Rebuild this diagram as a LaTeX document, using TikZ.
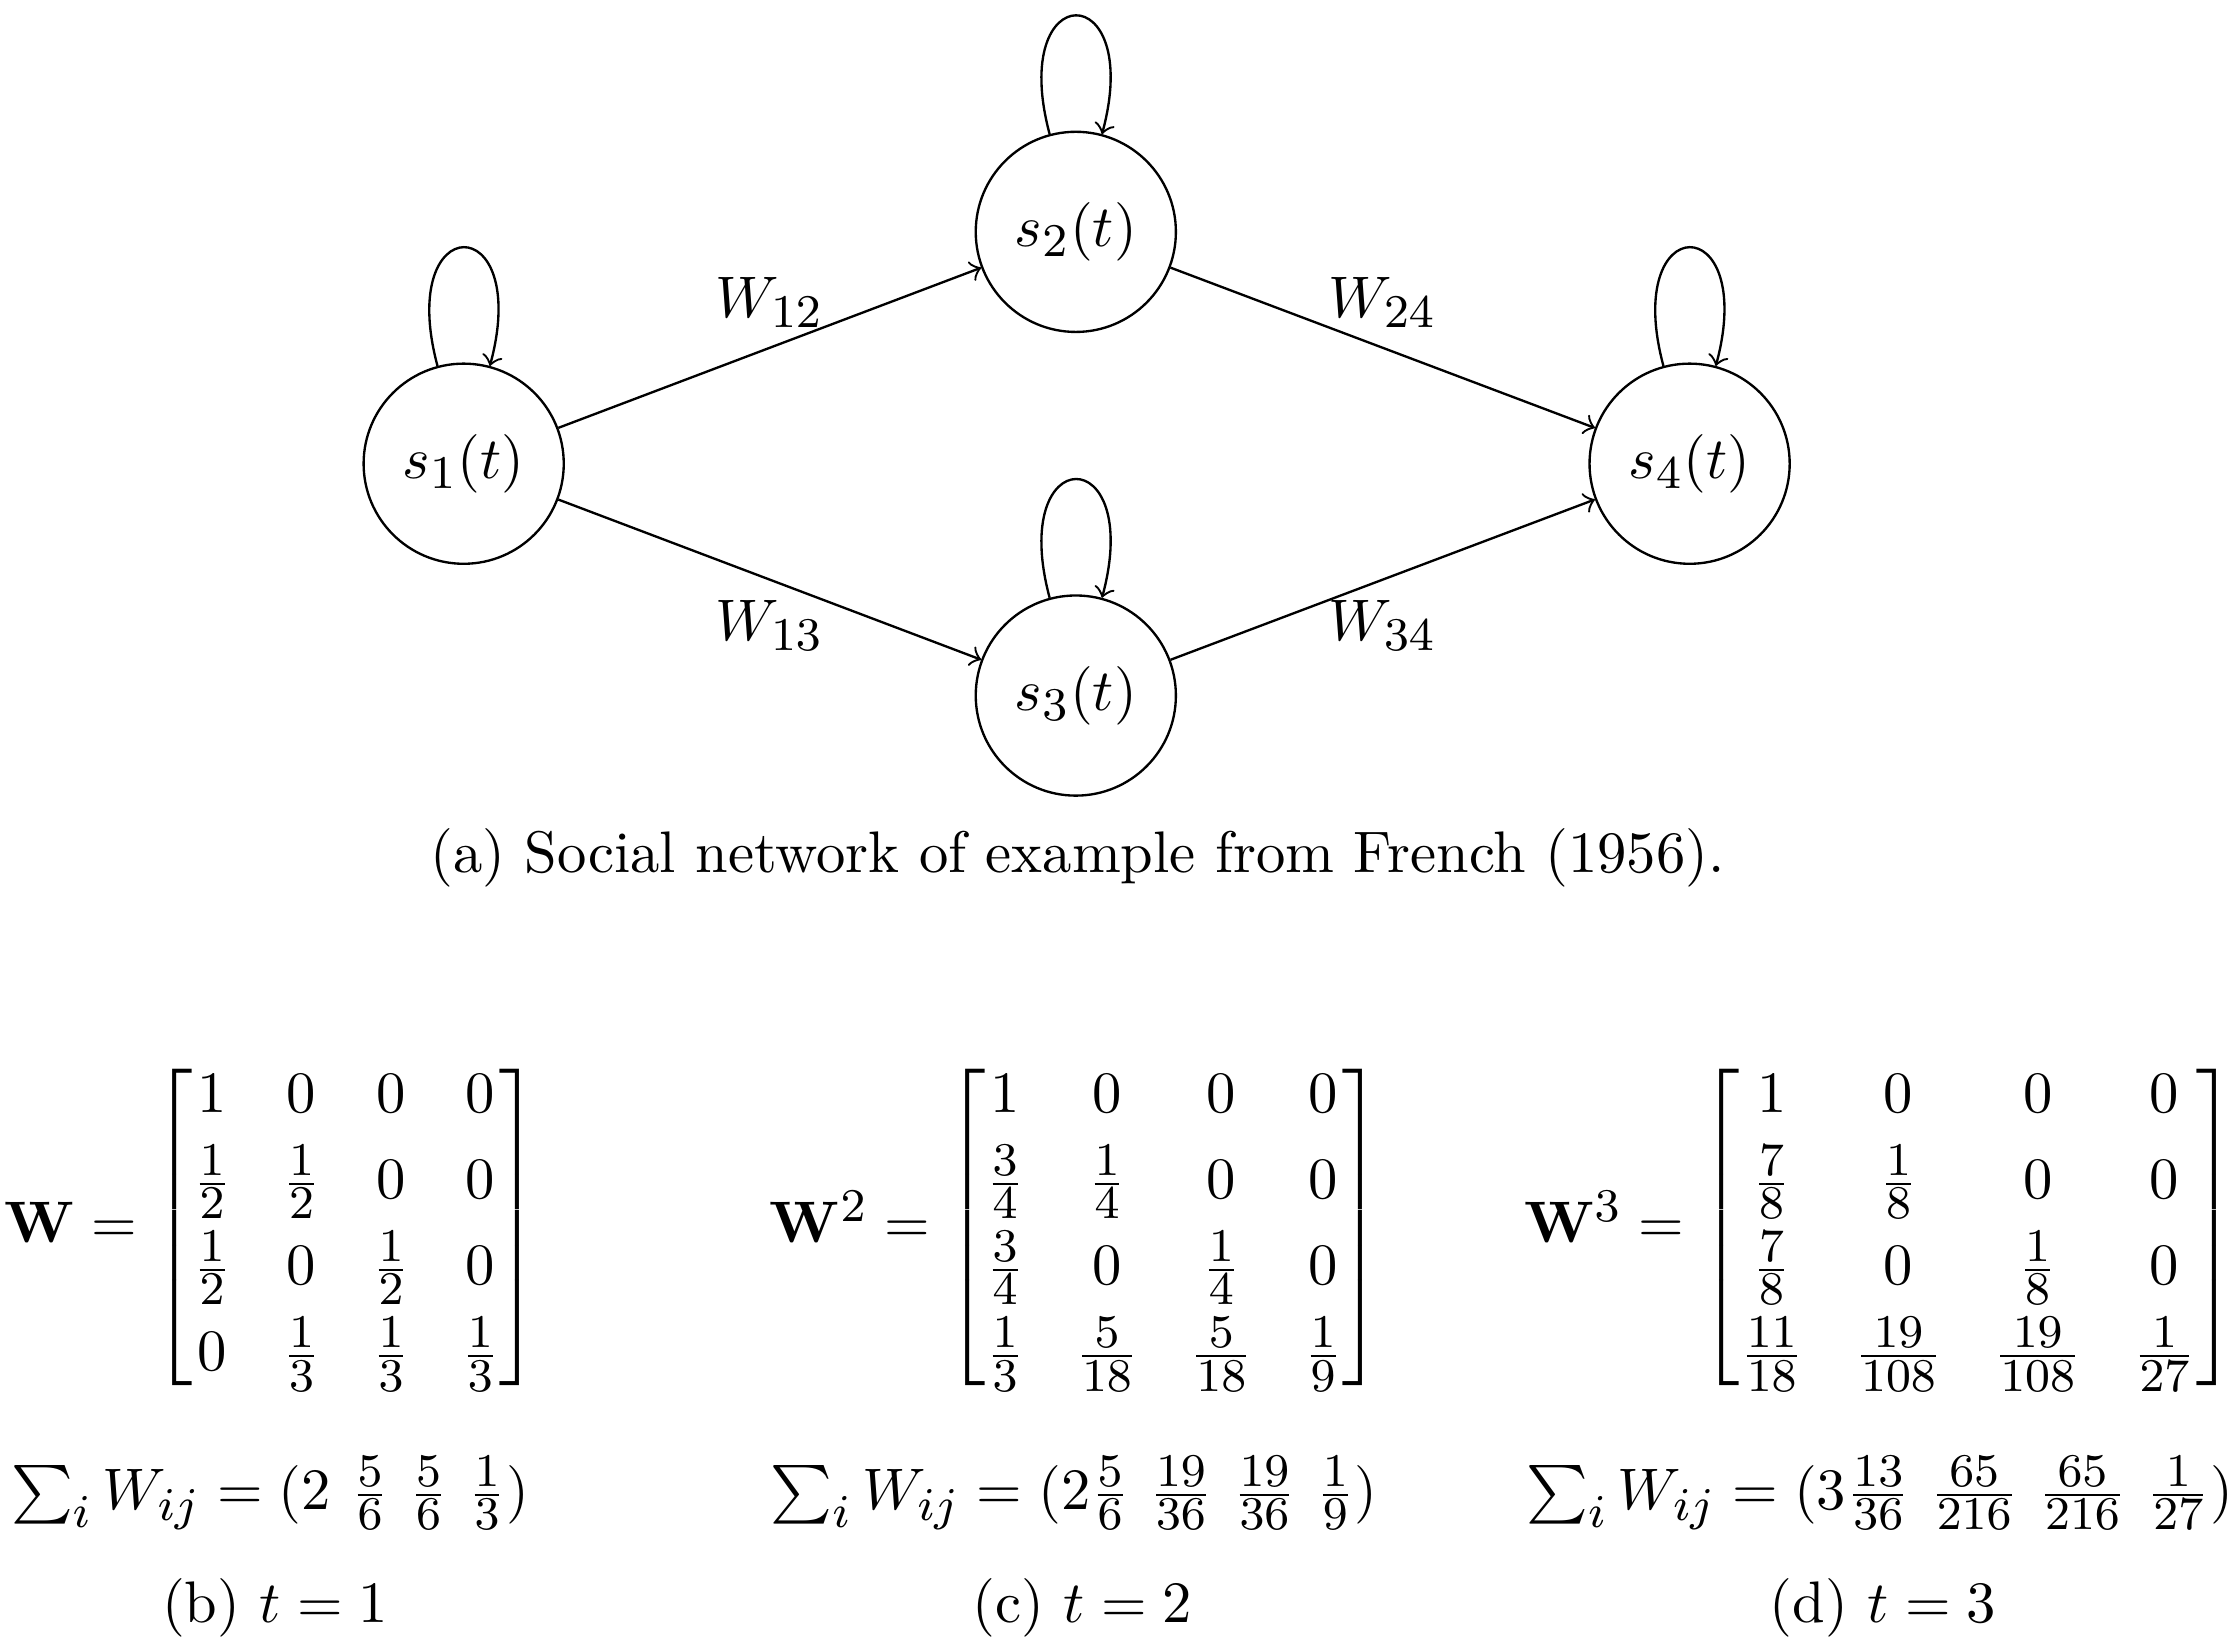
\documentclass[tikz,border=0pt]{standalone}
\usepackage{amsmath}
\usepackage{tikz}
\usetikzlibrary{positioning}

% indices y fracciones a 8pt
\DeclareMathSizes{10}{10}{8}{6}
\makeatletter
\AtBeginDocument{\def\glb@currsize{}}
\makeatother
\setlength{\arraycolsep}{4.3pt}

\begin{document}
\begin{tikzpicture}[
  state/.style={
    circle,
    draw,
    minimum size=1.2cm
  },
  arrow/.style={->},
  caption/.style={anchor=base}
]
\useasboundingbox (0,0) rectangle (13.43,-9.89);

% Red social (arriba)
\node[state] (s1) at (2.78, -2.78) {$s_1(t)$};
\node[state] (s2) at (6.45, -1.39) {$s_2(t)$};
\node[state] (s3) at (6.45, -4.17) {$s_3(t)$};
\node[state] (s4) at (10.13, -2.78) {$s_4(t)$};

% Influencias entre nodos
\draw[arrow] (s1) -- node[above]{$W_{12}$} (s2);
\draw[arrow] (s1) -- node[below]{$W_{13}$} (s3);
\draw[arrow] (s2) -- node[above]{$W_{24}$} (s4);
\draw[arrow] (s3) -- node[below]{$W_{34}$} (s4);

% Lazos
\foreach \s in {s1, s2, s3, s4}
  \draw[arrow] (\s) to[loop above] (\s);

\node[caption] (capa) at (6.46, -5.23) {(a) Social network of example from French (1956).};

% t = 1
\node (wone) at (1.63, -7.36) {$\mathbf{W} = \begin{bmatrix}
  1 & 0 & 0 & 0\\[2pt]
  \frac{1}{2} & \frac{1}{2} & 0 & 0\\[2pt]
  \frac{1}{2} & 0 & \frac{1}{2} & 0\\[2pt]
  0 & \frac{1}{3} & \frac{1}{3} & \frac{1}{3}
\end{bmatrix}$};
\node[caption] (sumone) at (1.62, -9.05) {$\sum_i W_{ij} = (2\ \frac{5}{6}\ \frac{5}{6}\ \frac{1}{3})$};
\node[caption] (capb) at (1.65, -9.73) {(b) $t=1$};

% t = 2
\node (wtwo) at (6.45, -7.36) {$\mathbf{W}^2 = \begin{bmatrix}
  1 & 0 & 0 & 0\\[2pt]
  \frac{3}{4} & \frac{1}{4} & 0 & 0\\[2pt]
  \frac{3}{4} & 0 & \frac{1}{4} & 0\\[2pt]
  \frac{1}{3} & \frac{5}{18} & \frac{5}{18} & \frac{1}{9}
\end{bmatrix}$};
\node[caption] (sumtwo) at (6.44, -9.05) {$\sum_i W_{ij} = (2\frac{5}{6}\ \frac{19}{36}\ \frac{19}{36}\ \frac{1}{9})$};
\node[caption] (capc) at (6.49, -9.73) {(c) $t=2$};

% t = 3
\node (wthree) at (11.27, -7.36) {$\mathbf{W}^3 = \begin{bmatrix}
  1 & 0 & 0 & 0\\[2pt]
  \frac{7}{8} & \frac{1}{8} & 0 & 0\\[2pt]
  \frac{7}{8} & 0 & \frac{1}{8} & 0\\[2pt]
  \frac{11}{18} & \frac{19}{108} & \frac{19}{108} & \frac{1}{27}
\end{bmatrix}$};
\node[caption] (sumthree) at (11.27, -9.05) {$\sum_i W_{ij} = (3\frac{13}{36}\ \frac{65}{216}\ \frac{65}{216}\ \frac{1}{27})$};
\node[caption] (capd) at (11.29, -9.73) {(d) $t=3$};

\end{tikzpicture}
\end{document}
